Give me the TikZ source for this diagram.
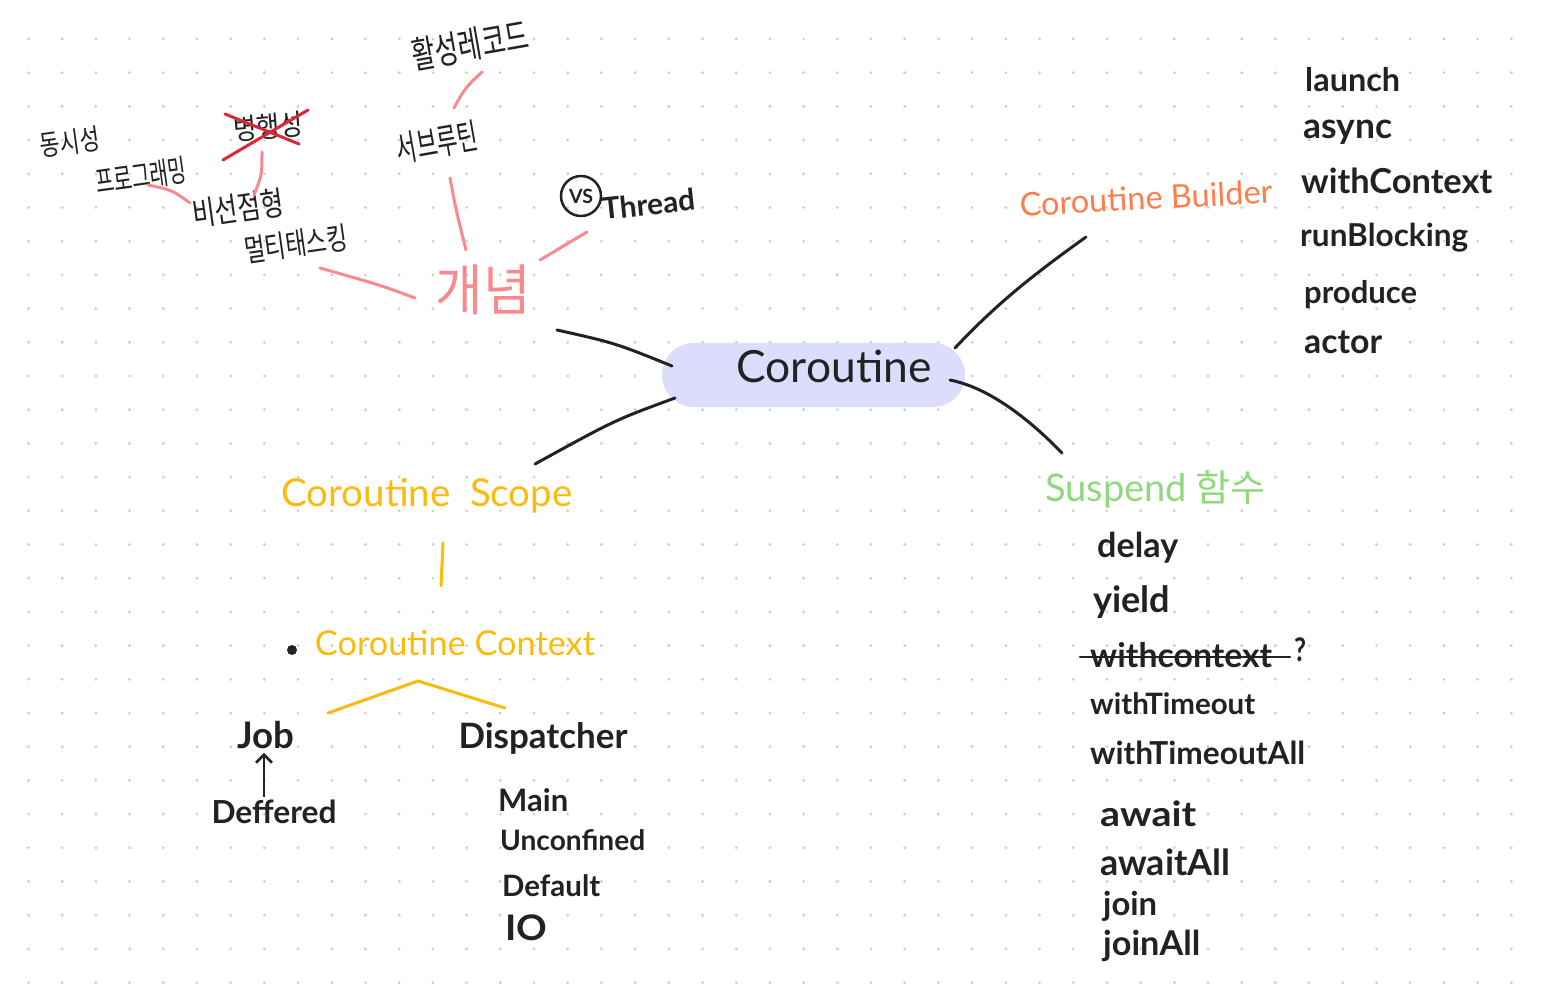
\documentclass[tikz,border=0pt]{standalone}
\usepackage{fontspec}
\usepackage{graphicx}
\setmainfont{Lato}
\newfontfamily\kr{Noto Sans CJK KR}
\usetikzlibrary{arrows.meta}
\definecolor{pinkc}{HTML}{F8898D}
\definecolor{yelc}{HTML}{FCBA0C}
\definecolor{grnc}{HTML}{8FD97C}
\definecolor{orgc}{HTML}{FB7E4B}
\definecolor{pillc}{HTML}{DCDDFD}
\definecolor{ink}{HTML}{222222}
\definecolor{dotc}{HTML}{CFCFCF}
\definecolor{redx}{HTML}{D8283A}
\newcommand\fw[2]{\resizebox{#1pt}{!}{#2}}
\newcommand\fwh[3]{\resizebox*{#1pt}{#2pt}{#3}}
\tikzset{
  txt/.style={inner sep=0pt, text=ink, font=\bfseries\fontsize{30}{36}\selectfont},
  hd/.style={inner sep=0pt, font=\fontsize{30}{36}\selectfont},
  kt/.style={inner sep=0pt, text=ink, font=\kr\fontsize{24}{28}\selectfont},
  blk/.style={draw=ink, line width=3pt, line cap=round},
  pk/.style={draw=pinkc, line width=3pt, line cap=round},
  yl/.style={draw=yelc, line width=3pt, line cap=round},
}
\begin{document}
\begin{tikzpicture}[x=1pt,y=-1pt]
\useasboundingbox (0,0) rectangle (1543,1000);
\fill[white] (0,0) rectangle (1543,1000);
% dot grid
\foreach \i in {0,...,44}{\foreach \j in {0,...,28}{\fill[dotc] (28.5+33.7*\i,39+33.7*\j) circle (1.6);}}

% center
\fill[pillc, rounded corners=32pt] (662,343) rectangle (965,407);
\node[hd, text=ink] (ctr) at (834,366) {\fw{195}{Coroutine}};

% concept branch
\node[kt, text=pinkc] (gn) at (483,290) {\fwh{95}{50}{개념}};
\node[kt, rotate=10] (sub) at (437,142) {\fwh{82}{32}{서브루틴}};
\node[kt, rotate=10] (act) at (470,45) {\fwh{118}{34}{활성레코드}};
\node[kt, rotate=5] (byh) at (268,127) {\fwh{70}{26}{병행성}};
\node[kt, rotate=8] (dss) at (70,142) {\fwh{60}{26}{동시성}};
\node[kt, rotate=8] (prg) at (141,176) {\fwh{92}{28}{프로그래밍}};
\node[kt, rotate=8] (bsj) at (238,208) {\fwh{92}{30}{비선점형}};
\node[kt, rotate=8] (mtt) at (296,244) {\fwh{104}{28}{멀티태스킹}};
\node[draw=ink, line width=2.5pt, circle, minimum size=40pt, inner sep=0pt, text=ink, font=\bfseries] (vs) at (581,196) {\fw{24}{VS}};
\node[txt, rotate=6, anchor=west] (thr) at (602,209) {\fw{93}{Thread}};

% red X over 병행성
\coordinate (x1a) at (223,160); \coordinate (x1b) at (308,110);
\coordinate (x2a) at (225,114); \coordinate (x2b) at (299,144);
\draw[draw=redx, line width=3pt, line cap=round] (x1a) -- (x1b);
\draw[draw=redx, line width=3pt, line cap=round] (x2a) -- (x2b);

% pink connectors
\coordinate (p1a) at (415,298); \coordinate (p1b) at (320,268);
\coordinate (p2a) at (466,250); \coordinate (p2b) at (450,178);
\coordinate (p3a) at (540,260); \coordinate (p3b) at (587,232);
\coordinate (p4a) at (454,108); \coordinate (p4b) at (482,72);
\coordinate (p5a) at (190,203); \coordinate (p5b) at (148,185);
\coordinate (p6a) at (254,195); \coordinate (p6b) at (262,152);
\draw[pk] (p1a) .. controls (380,285) .. (p1b);
\draw[pk] (p2a) .. controls (456,210) .. (p2b);
\draw[pk] (p3a) -- (p3b);
\draw[pk] (p4a) .. controls (465,88) .. (p4b);
\draw[pk] (p5a) .. controls (172,190) .. (p5b);
\draw[pk] (p6a) .. controls (262,175) .. (p6b);

% black connectors
\coordinate (c1a) at (672,366); \coordinate (c1b) at (557,330);
\coordinate (c2a) at (675,398); \coordinate (c2b) at (535,464);
\coordinate (c3a) at (955,348); \coordinate (c3b) at (1086,237);
\coordinate (c4a) at (950,380); \coordinate (c4b) at (1062,453);
\draw[blk] (c1a) .. controls (615,343) .. (c1b);
\draw[blk] (c2a) .. controls (615,420) .. (c2b);
\draw[blk] (c3a) .. controls (1000,300) and (1040,270) .. (c3b);
\draw[blk] (c4a) .. controls (990,388) and (1030,420) .. (c4b);

% builder branch
\node[hd, text=orgc, rotate=3] (bld) at (1146,198) {\fw{253}{Coroutine Builder}};
\node[txt, anchor=west] (b1) at (1305,80) {\fw{95}{launch}};
\node[txt, anchor=west] (b2) at (1303,132) {\fw{89}{async}};
\node[txt, anchor=west] (b3) at (1301,181) {\fw{191}{withContext}};
\node[txt, anchor=west] (b4) at (1300,238) {\fw{168}{runBlocking}};
\node[txt, anchor=west] (b5) at (1304,295) {\fw{113}{produce}};
\node[txt, anchor=west] (b6) at (1304,342) {\fw{78}{actor}};

% suspend branch
\node[hd, text=grnc, anchor=west] (sus) at (1045,489) {\fw{142}{Suspend}\hspace{8pt}{\kr\fwh{70}{34}{함수}}};
\node[txt, anchor=west] (s1) at (1097,548) {\fw{81}{delay}};
\node[txt, anchor=west] (s2) at (1093,602) {\fw{77}{yield}};
\node[txt, anchor=west] (s3) at (1090,655) {\fw{182}{withcontext}};
\coordinate (stA) at (1080,657); \coordinate (stB) at (1290,657);
\draw[blk, line width=2.5pt] (stA) -- (stB);
\node[txt, anchor=west] (s3q) at (1294,650) {\fwh{12}{24}{?}};
\node[txt, anchor=west] (s4) at (1090,704) {\fw{165}{withTimeout}};
\node[txt, anchor=west] (s5) at (1090,753) {\fw{215}{withTimeoutAll}};
\node[txt, anchor=west] (s6) at (1100,814) {\fwh{96}{26}{await}};
\node[txt, anchor=west] (s7) at (1100,862) {\fw{130}{awaitAll}};
\node[txt, anchor=west] (s8) at (1103,906) {\fw{54}{join}};
\node[txt, anchor=west] (s9) at (1103,946) {\fw{97}{joinAll}};

% scope branch
\node[hd, text=yelc] (scp) at (427,496) {\fw{291}{Coroutine\ \ Scope}};
\coordinate (y1a) at (443,543); \coordinate (y1b) at (441,586);
\draw[yl] (y1a) -- (y1b);
\fill[ink] (292,650) circle (5);
\node[hd, text=yelc] (ctx) at (455,643) {\fw{280}{Coroutine Context}};
\coordinate (ytop) at (418,681); \coordinate (yl1) at (328,713); \coordinate (yl2) at (505,708);
\draw[yl] (yl1) -- (ytop) -- (yl2);
\node[txt] (job) at (266,735) {\fw{57}{Job}};
\node[txt] (def) at (274,812) {\fw{125}{Deffered}};
\draw[draw=ink, line width=2.5pt, -{Straight Barb[length=8pt,width=16pt]}] ([xshift=-10pt,yshift=3pt]def.north) -- ([xshift=-2pt,yshift=-4pt]job.south);
\node[txt] (dsp) at (543,738) {\fw{169}{Dispatcher}};
\node[txt, anchor=west] (d1) at (498,800) {\fw{70}{Main}};
\node[txt, anchor=west] (d2) at (500,840) {\fw{145}{Unconfined}};
\node[txt, anchor=west] (d3) at (502,886) {\fw{98}{Default}};
\node[txt, anchor=west] (d4) at (505,928) {\fwh{42}{26}{IO}};
\end{tikzpicture}
\end{document}
